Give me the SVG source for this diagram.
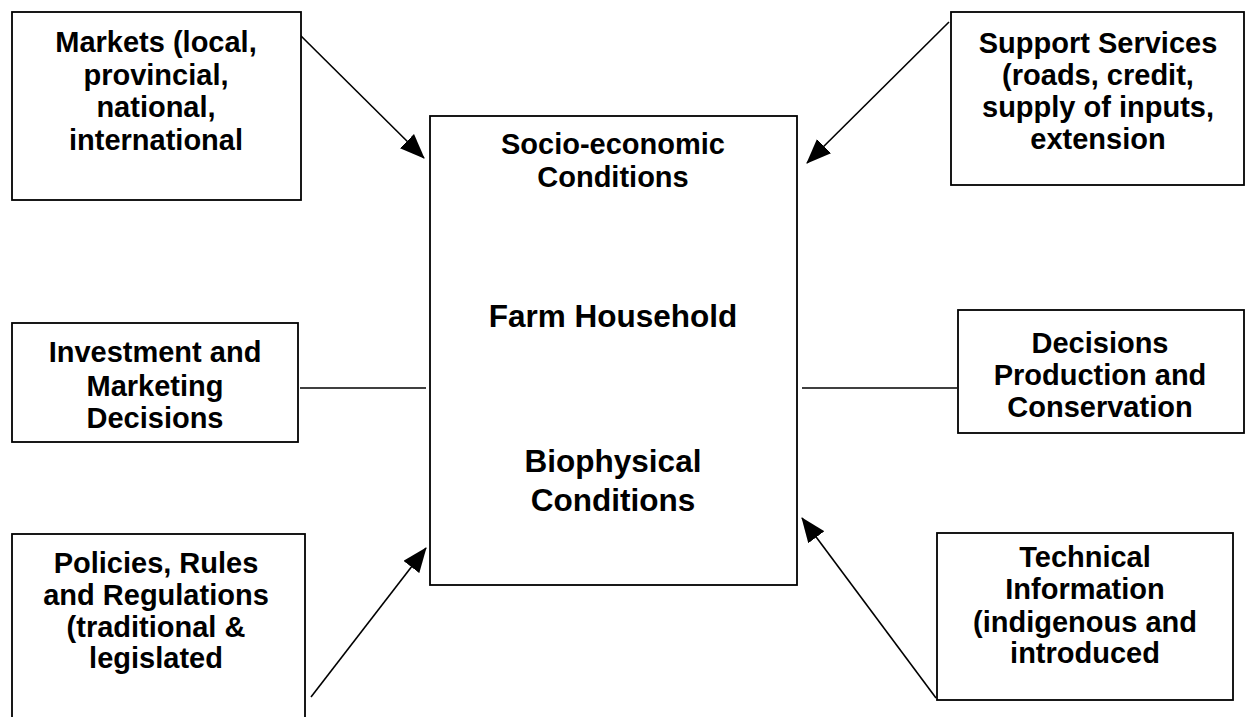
<svg xmlns="http://www.w3.org/2000/svg" width="1245" height="717" viewBox="0 0 1245 717">
<style>
.box{fill:#fff;stroke:#000;stroke-width:1.8}
.t{font-family:"Liberation Sans",Arial,sans-serif;font-weight:bold;font-size:29px;fill:#000;text-anchor:middle}
.big{font-size:31.5px}
.con{stroke:#000;stroke-width:1.6;fill:none}
</style>
<defs>
<marker id="ah" markerUnits="userSpaceOnUse" markerWidth="25" markerHeight="20" refX="24" refY="10" orient="auto">
<path d="M0,0 L25,10 L0,20 z" fill="#000"/>
</marker>
</defs>
<g id="connectors">
<line class="con" x1="297" y1="32" x2="424" y2="158" marker-end="url(#ah)"/>
<line class="con" x1="949" y1="22" x2="807" y2="163" marker-end="url(#ah)"/>
<line class="con" x1="311" y1="697" x2="426" y2="548" marker-end="url(#ah)"/>
<line class="con" x1="936" y1="698" x2="802" y2="518" marker-end="url(#ah)"/>
<line class="con" x1="300" y1="388" x2="426" y2="388"/>
<line class="con" x1="802" y1="388" x2="957" y2="388"/>
</g>
<g id="farm-household">
<rect class="box" x="430" y="116" width="367" height="469"/>
<text class="t" x="613" y="154">Socio-economic</text>
<text class="t" x="613" y="187">Conditions</text>
<text class="t big" x="613" y="327">Farm Household</text>
<text class="t big" x="613" y="472">Biophysical</text>
<text class="t big" x="613" y="511">Conditions</text>
</g>
<g id="markets">
<rect class="box" x="12" y="12" width="289" height="188"/>
<text class="t" x="156" y="52">Markets (local,</text>
<text class="t" x="156" y="84.5">provincial,</text>
<text class="t" x="156" y="117">national,</text>
<text class="t" x="156" y="149.5">international</text>
</g>
<g id="support-services">
<rect class="box" x="951" y="12" width="293" height="173"/>
<text class="t" x="1098" y="53">Support Services</text>
<text class="t" x="1098" y="85">(roads, credit,</text>
<text class="t" x="1098" y="117">supply of inputs,</text>
<text class="t" x="1098" y="149">extension</text>
</g>
<g id="investment">
<rect class="box" x="12" y="323" width="286" height="119"/>
<text class="t" x="155" y="362">Investment and</text>
<text class="t" x="155" y="396">Marketing</text>
<text class="t" x="155" y="428">Decisions</text>
</g>
<g id="decisions">
<rect class="box" x="958" y="310" width="286" height="123"/>
<text class="t" x="1100" y="353">Decisions</text>
<text class="t" x="1100" y="385">Production and</text>
<text class="t" x="1100" y="417">Conservation</text>
</g>
<g id="policies">
<rect class="box" x="12" y="534" width="293" height="200"/>
<text class="t" x="156" y="573">Policies, Rules</text>
<text class="t" x="156" y="605">and Regulations</text>
<text class="t" x="156" y="637">(traditional &amp;</text>
<text class="t" x="156" y="668">legislated</text>
</g>
<g id="technical">
<rect class="box" x="937" y="533" width="296" height="167"/>
<text class="t" x="1085" y="567">Technical</text>
<text class="t" x="1085" y="599">Information</text>
<text class="t" x="1085" y="632">(indigenous and</text>
<text class="t" x="1085" y="663">introduced</text>
</g>
</svg>
